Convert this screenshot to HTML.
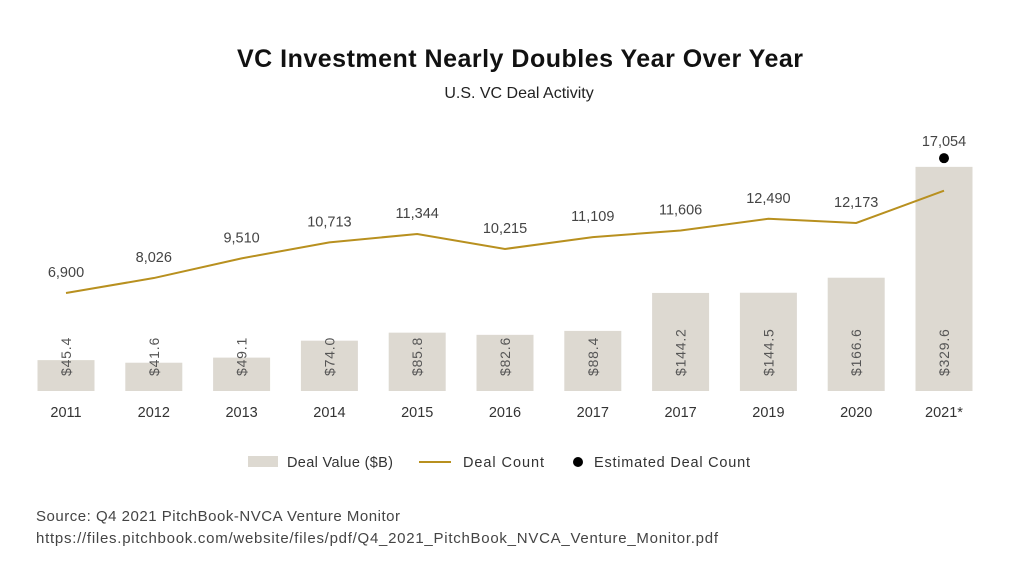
<!DOCTYPE html>
<html><head><meta charset="utf-8"><style>
body{margin:0;background:#fff;width:1035px;height:571px;overflow:hidden;font-family:"Liberation Sans",sans-serif}
svg{display:block}
</style></head><body>
<svg id="chart" width="1035" height="571">
<text x="237" y="67" textLength="566" font-size="25" font-weight="bold" fill="#111">VC Investment Nearly Doubles Year Over Year</text>
<text x="519" y="98" text-anchor="middle" font-size="16" fill="#222">U.S. VC Deal Activity</text>
<g id="bars"></g><g id="line"></g><g id="labels"></g>
<g>
<rect x="248" y="456" width="30" height="11" fill="#ddd9d1"/>
<text x="287" y="467" textLength="106" font-size="14.5" fill="#333">Deal Value ($B)</text>
<line x1="419" y1="462" x2="451" y2="462" stroke="#b8901f" stroke-width="2"/>
<text x="463" y="467" textLength="81" font-size="14.5" fill="#333">Deal Count</text>
<circle cx="578" cy="462" r="5" fill="#000"/>
<text x="594" y="467" textLength="156" font-size="14.5" fill="#333">Estimated Deal Count</text>
</g>
<text x="36" y="521" textLength="364" font-size="15" fill="#444">Source: Q4 2021 PitchBook-NVCA Venture Monitor</text>
<text x="36" y="543" textLength="682" font-size="15" fill="#444">https://files.pitchbook.com/website/files/pdf/Q4_2021_PitchBook_NVCA_Venture_Monitor.pdf</text>
</svg>
<script>
const categories=["2011","2012","2013","2014","2015","2016","2017","2017","2019","2020","2021*"];
const dealValues=[45.4,41.6,49.1,74.0,85.8,82.6,88.4,144.2,144.5,166.6,329.6];
const dealCounts=[6900,8026,9510,10713,11344,10215,11109,11606,12490,12173,14600];
const countLabels=["6,900","8,026","9,510","10,713","11,344","10,215","11,109","11,606","12,490","12,173",""];
const estimatedCount=17054;
const estimatedLabel="17,054";
const NS="http://www.w3.org/2000/svg";
const xC=i=>66+i*87.8;
const yV=v=>391-v*0.68;
const yC=c=>293-(c-6900)*0.01328;
const bars=document.getElementById('bars'),line=document.getElementById('line'),labels=document.getElementById('labels');
function mk(tag,attrs,parent,txt){const e=document.createElementNS(NS,tag);for(const k in attrs)e.setAttribute(k,attrs[k]);if(txt!==undefined)e.textContent=txt;parent.appendChild(e);return e;}
let pts=[];
categories.forEach((c,i)=>{
 const r=mk('rect',{x:xC(i)-28.5,y:yV(dealValues[i]),width:57,height:391-yV(dealValues[i]),fill:'#ddd9d1'},bars);
 
 
 const t=mk('text',{x:0,y:0,transform:`translate(${xC(i)+5},376) rotate(-90)`,'font-size':14,'letter-spacing':0.8,fill:'#555'},labels,'$'+dealValues[i].toFixed(1));
 
 
 const xl=mk('text',{x:xC(i),y:417,'text-anchor':'middle','font-size':14.5,fill:'#333'},labels,c);
 
 
 pts.push(xC(i)+','+yC(dealCounts[i]));
 if(countLabels[i]){
  const cl=mk('text',{x:xC(i),y:yC(dealCounts[i])-16,'text-anchor':'middle','font-size':14.5,fill:'#444'},labels,countLabels[i]);
  
  
 }
});
const pl=mk('polyline',{points:pts.join(' '),fill:'none',stroke:'#b8901f','stroke-width':2},line);


const li=categories.length-1;
const dot=mk('circle',{cx:xC(li),cy:yC(estimatedCount),r:5,fill:'#000'},line);


const el=mk('text',{x:xC(li),y:yC(estimatedCount)-12,'text-anchor':'middle','font-size':14.5,fill:'#444'},labels,estimatedLabel);


</script>
</body></html>
